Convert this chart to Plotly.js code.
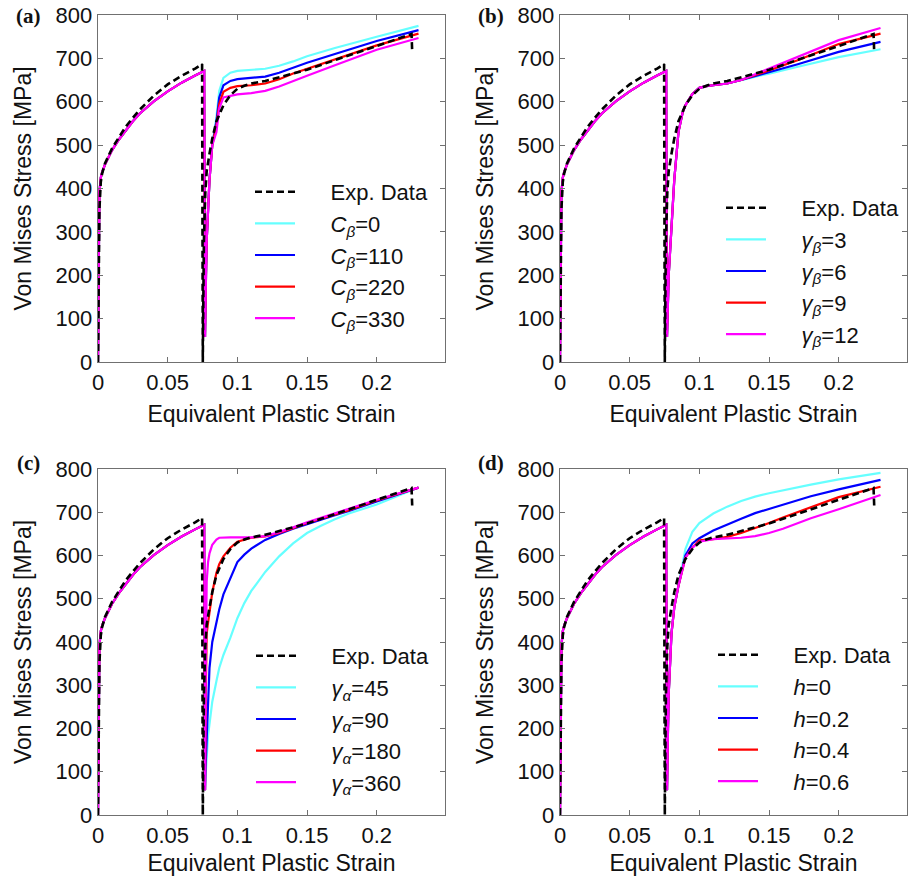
<!DOCTYPE html>
<html>
<head>
<meta charset="utf-8">
<script src="https://cdn.plot.ly/plotly-3.0.1.min.js"></script>
<style>html,body{margin:0;padding:0;background:#fff;}#chart{width:910px;height:876px;}</style>
</head>
<body>
<div id="chart"></div>
<script>
// ---------- DATA ----------
// Experimental curve (identical in all four panels)
const expX = [0, 0.0005, 0.001, 0.002, 0.003, 0.005, 0.01, 0.015, 0.02, 0.025, 0.03, 0.04, 0.05, 0.06, 0.07, 0.0747, 0.0749,
              0.0752, 0.0756, 0.076, 0.077, 0.078, 0.08, 0.082, 0.085, 0.09, 0.095, 0.1, 0.105, 0.11, 0.12, 0.13, 0.14, 0.15,
              0.17, 0.19, 0.2, 0.21, 0.225, 0.2255];
const expY = [0, 150, 350, 415, 435, 458, 492, 518, 543, 563, 582, 614, 640, 660, 677, 687, 0,
              0, 150, 280, 390, 440, 480, 515, 555, 592, 615, 630, 637, 642, 648, 656, 665, 674,
              696, 718, 729, 740, 756, 712];

// Simulated first loading + unloading (shared by all simulated curves)
const simLoadX = [0, 0.0005, 0.001, 0.002, 0.003, 0.005, 0.01, 0.015, 0.02, 0.025, 0.03, 0.04, 0.05, 0.06, 0.07, 0.0762, 0.0766];
const simLoadY = [0, 200, 390, 425, 438, 455, 488, 513, 535, 555, 573, 601, 624, 644, 661, 671, 60];

// Panel (a): C_beta variation, reloading branch
const aX = [0.0768, 0.0775, 0.078, 0.08, 0.082, 0.085, 0.087, 0.09, 0.095, 0.1, 0.11, 0.12, 0.13, 0.14, 0.15, 0.17, 0.2, 0.23];
const aC0   = [60, 200, 280, 420, 500, 565, 625, 655, 667, 671, 673, 676, 683, 693, 705, 724, 750, 775];
const aC110 = [60, 200, 280, 420, 500, 555, 610, 638, 648, 652, 655, 658, 667, 678, 690, 710, 740, 765];
const aC220 = [60, 200, 280, 420, 500, 545, 595, 623, 632, 636, 638, 642, 652, 665, 676, 697, 730, 757];
const aC330 = [60, 200, 280, 420, 500, 530, 585, 610, 614, 617, 620, 625, 635, 648, 660, 684, 720, 747];

// Panel (b): gamma_beta variation
const bX = [0.0768, 0.078, 0.08, 0.082, 0.085, 0.088, 0.09, 0.095, 0.1, 0.105, 0.11, 0.12, 0.13, 0.14, 0.15, 0.17, 0.2, 0.23];
const bG3  = [60, 200, 320, 420, 530, 575, 592, 618, 632, 636, 638, 642, 650, 657, 665, 680, 703, 721];
const bG6  = [60, 200, 320, 420, 530, 575, 592, 618, 632, 636, 638, 642, 650, 659, 668, 686, 715, 738];
const bG9  = [60, 200, 320, 420, 530, 575, 592, 618, 632, 636, 638, 642, 650, 661, 672, 695, 733, 757];
const bG12 = [60, 200, 320, 420, 530, 575, 592, 618, 632, 636, 638, 642, 650, 663, 676, 702, 742, 770];

// Panel (c): gamma_alpha variation
const cX = [0.0768, 0.0772, 0.0776, 0.078, 0.079, 0.08, 0.082, 0.085, 0.087, 0.09, 0.095, 0.1, 0.105, 0.11, 0.12, 0.13, 0.14, 0.15, 0.16, 0.17, 0.18, 0.2, 0.23];
const cG45  = [60, 90, 119, 150, 185, 210, 262, 310, 340, 370, 410, 455, 490, 518, 562, 598, 628, 652, 669, 684, 697, 718, 757];
const cG90  = [60, 110, 150, 180, 270, 340, 400, 445, 475, 510, 548, 585, 602, 616, 636, 650, 662, 673, 683, 693, 703, 725, 757];
const cG180 = [60, 250, 389, 420, 445, 466, 515, 560, 580, 598, 618, 632, 637, 641, 644, 652, 663, 675, 685, 695, 705, 727, 757];
const cG360 = [60, 300, 480, 540, 585, 605, 625, 637, 641, 642, 642, 642, 642, 642, 645, 654, 665, 677, 687, 698, 708, 729, 757];

// Panel (d): h variation
const dX = [0.0768, 0.0775, 0.078, 0.08, 0.082, 0.085, 0.0887, 0.09, 0.095, 0.1, 0.11, 0.12, 0.13, 0.14, 0.15, 0.16, 0.17, 0.18, 0.2, 0.23];
const dH0  = [60, 200, 280, 420, 480, 530, 597, 615, 655, 675, 697, 713, 726, 736, 744, 751, 758, 764, 776, 791];
const dH02 = [60, 200, 280, 420, 480, 530, 585, 600, 628, 640, 658, 672, 685, 698, 708, 718, 728, 737, 753, 775];
const dH04 = [60, 200, 280, 420, 480, 530, 580, 595, 618, 635, 638, 643, 652, 663, 675, 688, 700, 712, 735, 759];
const dH06 = [60, 200, 280, 420, 480, 530, 580, 595, 618, 632, 638, 639, 641, 645, 652, 662, 674, 686, 707, 740];

const expName = 'Exp. Data';
const aNames = ['<i>C</i><sub><i>β</i></sub>=0', '<i>C</i><sub><i>β</i></sub>=110', '<i>C</i><sub><i>β</i></sub>=220', '<i>C</i><sub><i>β</i></sub>=330'];
const bNames = ['<i>γ</i><sub><i>β</i></sub>=3', '<i>γ</i><sub><i>β</i></sub>=6', '<i>γ</i><sub><i>β</i></sub>=9', '<i>γ</i><sub><i>β</i></sub>=12'];
const cNames = ['<i>γ</i><sub><i>α</i></sub>=45', '<i>γ</i><sub><i>α</i></sub>=90', '<i>γ</i><sub><i>α</i></sub>=180', '<i>γ</i><sub><i>α</i></sub>=360'];
const dNames = ['<i>h</i>=0', '<i>h</i>=0.2', '<i>h</i>=0.4', '<i>h</i>=0.6'];
const panelLabels = ['(a)', '(b)', '(c)', '(d)'];
const xTickVals = [0, 0.05, 0.1, 0.15, 0.2];
const xTickText = ['0', '0.05', '0.1', '0.15', '0.2'];

// ---------- STYLE ----------
const simColors = ['#66ffff', '#0000ff', '#ff0000', '#ff00ff'];
const FONT = 'Liberation Sans, Arial, sans-serif';
const LEG_PAD = '\u00a0\u00a0\u00a0\u00a0\u00a0'; // gap between legend sample line and its text

const panels = [
  {x: aX, ys: [aC0, aC110, aC220, aC330], names: aNames},
  {x: bX, ys: [bG3, bG6, bG9, bG12], names: bNames},
  {x: cX, ys: [cG45, cG90, cG180, cG360], names: cNames},
  {x: dX, ys: [dH0, dH02, dH04, dH06], names: dNames}
];

const traces = [];
panels.forEach((p, i) => {
  const n = i === 0 ? '' : String(i + 1);
  const legendId = 'legend' + n;
  p.ys.forEach((ys, k) => {
    traces.push({
      type: 'scatter', mode: 'lines',
      x: simLoadX.concat(p.x), y: simLoadY.concat(ys),
      xaxis: 'x' + n, yaxis: 'y' + n,
      name: LEG_PAD + p.names[k], legend: legendId, legendrank: k + 2,
      line: {color: simColors[k], width: 2.2}
    });
  });
  traces.push({
    type: 'scatter', mode: 'lines', x: expX, y: expY,
    xaxis: 'x' + n, yaxis: 'y' + n,
    name: LEG_PAD + expName, legend: legendId, legendrank: 1,
    line: {color: '#000000', width: 2.6, dash: '7px,4px'}
  });
});

const W = 910, H = 876;
const colX = [[98 / W, 445 / W], [560 / W, 907 / W]];
const rowY = [[1 - 362 / H, 1 - 15 / H], [1 - 815 / H, 1 - 469 / H]];

function xAxis(dom, anchor) {
  return {
    domain: dom, anchor: anchor, range: [0, 0.249],
    tickvals: xTickVals, ticktext: xTickText,
    showline: true, linecolor: '#707070', linewidth: 1.3, mirror: 'allticks',
    ticks: 'inside', ticklen: 5, tickcolor: '#707070', showgrid: false, zeroline: false,
    tickfont: {family: FONT, size: 22, color: '#111'},
    title: {text: 'Equivalent Plastic Strain', font: {family: FONT, size: 23, color: '#111'}, standoff: 12}
  };
}
function yAxis(dom, anchor) {
  return {
    domain: dom, anchor: anchor, range: [0, 800], dtick: 100,
    showline: true, linecolor: '#707070', linewidth: 1.3, mirror: 'allticks',
    ticks: 'inside', ticklen: 5, tickcolor: '#707070', showgrid: false, zeroline: false,
    tickfont: {family: FONT, size: 22, color: '#111'},
    title: {text: 'Von Mises Stress [MPa]', font: {family: FONT, size: 23, color: '#111'}, standoff: 17}
  };
}
function legendAt(px, py) {
  return {
    x: px / W, y: 1 - py / H, xanchor: 'left', yanchor: 'top',
    bgcolor: 'rgba(0,0,0,0)', borderwidth: 0, itemwidth: 40,
    font: {family: FONT, size: 22, color: '#111'}, traceorder: 'normal', tracegroupgap: 0
  };
}

const layout = {
  width: W, height: H, margin: {l: 0, r: 0, t: 0, b: 0},
  paper_bgcolor: '#fff', plot_bgcolor: '#fff', showlegend: true,
  xaxis: xAxis(colX[0], 'y'), yaxis: yAxis(rowY[0], 'x'),
  xaxis2: xAxis(colX[1], 'y2'), yaxis2: yAxis(rowY[0], 'x2'),
  xaxis3: xAxis(colX[0], 'y3'), yaxis3: yAxis(rowY[1], 'x3'),
  xaxis4: xAxis(colX[1], 'y4'), yaxis4: yAxis(rowY[1], 'x4'),
  legend: legendAt(250, 171),
  legend2: legendAt(721, 187),
  legend3: legendAt(251, 635),
  legend4: legendAt(713, 634),
  annotations: [
    [28, 16], [491, 16], [28, 463], [491, 463]
  ].map((pos, i) => ({
    xref: 'paper', yref: 'paper', x: pos[0] / W, y: 1 - pos[1] / H,
    xanchor: 'center', yanchor: 'middle', showarrow: false,
    text: '<b>' + panelLabels[i] + '</b>',
    font: {family: 'Liberation Serif, Times New Roman, serif', size: 21, color: '#111'}
  }))
};

Plotly.newPlot('chart', traces, layout, {displayModeBar: false, staticPlot: true});
</script>
</body>
</html>
